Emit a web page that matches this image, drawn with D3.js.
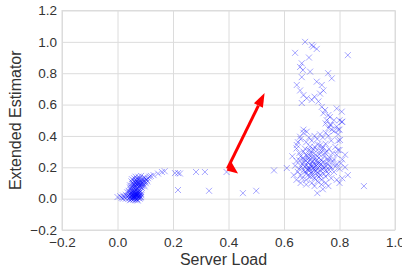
<!DOCTYPE html>
<html>
<head>
<meta charset="utf-8">
<script src="https://cdn.jsdelivr.net/npm/d3@7"></script>
<style>
  body { margin: 0; background: #fff; }
  svg { display: block; font-family: "Liberation Sans", Arial, sans-serif; }
</style>
</head>
<body>
<div id="container"></div>
<script>
// ---- data ----
var xTicks = [-0.2, 0.0, 0.2, 0.4, 0.6, 0.8, 1.0];
var yTicks = [-0.2, 0.0, 0.2, 0.4, 0.6, 0.8, 1.0, 1.2];

// low-load cluster near the origin
var lowCluster = [
  [0.04,0.00],[0.045,0.01],[0.05,-0.005],[0.055,0.005],[0.06,0.0],[0.065,0.01],[0.07,-0.005],[0.075,0.005],
  [0.08,0.0],[0.05,0.02],[0.055,0.03],[0.06,0.02],[0.065,0.035],[0.07,0.025],[0.075,0.03],[0.08,0.02],
  [0.045,0.03],[0.04,0.02],[0.085,0.01],[0.06,0.045],[0.07,0.045],[0.05,0.04],[0.08,0.04],[0.055,0.015],
  [0.065,-0.01],[0.075,0.015],[0.045,-0.01],[0.085,0.03],[0.058,0.008],[0.068,0.018],[0.062,0.028],
  [0.072,0.038],[0.052,0.048],[0.078,0.052],[0.048,0.058],[0.066,0.055],[0.057,-0.008],[0.073,-0.012],
  [0.053,0.002],[0.063,0.004],[0.067,0.022],[0.058,0.036],[0.071,0.008],[0.077,0.024],[0.049,0.014],
  [0.061,0.012],[0.069,0.032],[0.056,0.024],[0.074,0.046],[0.064,0.042],[0.059,0.052],[0.082,0.006],
  [0.047,0.005],[0.083,0.044],[0.051,0.032],[0.069,-0.002],[0.079,0.012],[0.063,0.018],[0.054,0.042],
  [0.066,0.028],[0.072,0.018],[0.06,0.008],[0.076,0.036],[0.086,0.022],[0.042,0.04],
  [0.05,0.07],[0.055,0.08],[0.06,0.065],[0.065,0.075],[0.07,0.09],[0.075,0.07],[0.08,0.085],[0.085,0.095],
  [0.09,0.08],[0.06,0.09],[0.065,0.1],[0.07,0.11],[0.075,0.1],[0.08,0.115],[0.085,0.11],[0.09,0.1],
  [0.095,0.115],[0.1,0.11],[0.055,0.1],[0.06,0.115],[0.07,0.125],[0.08,0.13],[0.09,0.125],[0.1,0.13],
  [0.105,0.12],[0.11,0.13],[0.115,0.14],[0.12,0.145],[0.095,0.09],[0.045,0.085],[0.05,0.11],[0.06,0.13],
  [0.065,0.14],[0.075,0.14],[0.085,0.145],[0.052,0.124],[0.068,0.062],[0.088,0.068],[0.098,0.078],[0.078,0.078],
  [0.072,0.082],[0.067,0.092],[0.077,0.094],[0.082,0.1],[0.062,0.078],[0.073,0.102],[0.087,0.086],
  [0.068,0.118],[0.078,0.122],[0.058,0.072],[0.083,0.076],[0.092,0.108],[0.064,0.106],[0.074,0.064],
  [0.102,0.098],[0.108,0.11],[0.096,0.135],[0.057,0.09],
  [0.0,0.01],[0.01,0.015],[0.015,0.005],[0.02,0.02],[0.025,0.01],[0.03,0.025],[0.035,0.015],[0.03,0.0],
  [0.02,0.0],[0.04,0.05],[0.035,0.04],[0.045,0.07]
];

// sparse points between the two clusters
var midPoints = [
  [0.13,0.15],[0.146,0.16],[0.16,0.17],[0.17,0.175],[0.207,0.163],[0.218,0.163],[0.225,0.16],[0.218,0.055],
  [0.283,0.17],[0.315,0.17],[0.33,0.05],[0.393,0.17],[0.452,0.035],[0.50,0.05],[0.564,0.18],[0.61,0.195],
  [0.888,0.08]
];

// high-load cluster
var highCluster = [
  [0.66,0.15],[0.67,0.18],[0.68,0.16],[0.69,0.2],[0.70,0.17],[0.71,0.22],[0.72,0.19],[0.73,0.15],[0.74,0.21],
  [0.75,0.18],[0.76,0.24],[0.77,0.2],[0.665,0.22],[0.675,0.25],[0.685,0.23],[0.695,0.27],[0.705,0.24],
  [0.715,0.28],[0.725,0.26],[0.735,0.3],[0.745,0.27],[0.755,0.3],[0.765,0.26],[0.66,0.27],[0.67,0.3],
  [0.68,0.28],[0.69,0.31],[0.70,0.3],[0.71,0.33],[0.72,0.31],[0.73,0.34],[0.74,0.33],[0.75,0.35],
  [0.665,0.13],[0.68,0.12],[0.695,0.14],[0.71,0.13],[0.72,0.15],[0.735,0.12],[0.75,0.14],[0.76,0.16],
  [0.77,0.13],[0.655,0.19],[0.645,0.24],[0.65,0.17],[0.64,0.21],[0.655,0.29],[0.645,0.32],[0.65,0.36],
  [0.675,0.205],[0.685,0.185],[0.695,0.215],[0.705,0.195],[0.715,0.175],[0.725,0.225],[0.735,0.245],
  [0.745,0.195],[0.755,0.225],[0.765,0.205],[0.672,0.235],[0.688,0.255],[0.702,0.265],[0.718,0.245],
  [0.728,0.205],[0.742,0.235],[0.758,0.255],[0.70,0.21],[0.69,0.24],[0.71,0.20],[0.72,0.23],[0.68,0.21],
  [0.73,0.18],[0.70,0.16],[0.69,0.18],
  [0.678,0.172],[0.692,0.192],[0.708,0.182],[0.722,0.168],[0.738,0.188],[0.752,0.208],[0.662,0.205],
  [0.682,0.272],[0.698,0.288],[0.712,0.262],[0.728,0.282],[0.748,0.292],[0.668,0.255],[0.702,0.235],
  [0.716,0.212],[0.732,0.222],[0.686,0.148],[0.704,0.142],[0.726,0.138],[0.744,0.158],[0.762,0.182],
  [0.676,0.318],[0.694,0.332],[0.722,0.345],[0.706,0.315],[0.738,0.318],[0.762,0.318],[0.656,0.245],
  [0.78,0.17],[0.79,0.22],[0.80,0.19],[0.81,0.25],[0.79,0.28],[0.80,0.31],[0.82,0.2],[0.83,0.15],[0.81,0.13],
  [0.78,0.25],[0.785,0.33],[0.795,0.37],[0.775,0.29],[0.82,0.28],[0.8,0.1],[0.79,0.12],[0.785,0.205],
  [0.805,0.225],[0.775,0.235],
  [0.70,0.1],[0.71,0.08],[0.72,0.11],[0.735,0.09],[0.75,0.1],[0.68,0.09],[0.66,0.1],[0.72,0.035],[0.76,0.08],
  [0.74,0.06],
  [0.66,0.38],[0.67,0.42],[0.68,0.36],[0.69,0.39],[0.7,0.37],[0.71,0.4],[0.72,0.38],[0.73,0.41],[0.74,0.39],
  [0.75,0.42],[0.76,0.4],[0.77,0.37],[0.78,0.43],[0.76,0.45],[0.77,0.47],[0.78,0.5],[0.79,0.46],[0.8,0.44],
  [0.8,0.5],[0.81,0.49],[0.795,0.41],[0.75,0.48],[0.765,0.52],
  [0.658,0.395],[0.646,0.342],[0.67,0.44],[0.682,0.427],[0.63,0.27],[0.635,0.15],[0.645,0.12]
];

// the tall column above the high-load cluster
var column = [
  [0.676,1.0],[0.70,0.98],[0.705,0.97],[0.718,0.955],[0.64,0.93],[0.69,0.90],[0.83,0.915],[0.664,0.863],
  [0.658,0.84],[0.668,0.82],[0.694,0.81],[0.759,0.80],[0.772,0.767],[0.664,0.775],[0.718,0.746],[0.646,0.725],
  [0.658,0.69],[0.736,0.725],[0.742,0.69],[0.73,0.67],[0.67,0.66],[0.682,0.64],[0.70,0.63],[0.71,0.65],
  [0.724,0.62],[0.664,0.61],[0.736,0.585],[0.748,0.565],[0.76,0.533],[0.79,0.575],[0.808,0.555],[0.742,0.545],
  [0.754,0.50],[0.766,0.47],[0.772,0.44],[0.795,0.44],[0.802,0.374],[0.795,0.31],[0.808,0.49]
];

// red arrow: tail and head in data units
var arrowFrom = [0.393, 0.18];
var arrowTo = [0.53, 0.674];

// ---- layout ----
var W = 402, H = 276;
var margin = { top: 10.5, right: 7, bottom: 46, left: 62 };
var width = W - margin.left - margin.right,
    height = H - margin.top - margin.bottom;

var svg = d3.select("#container").append("svg")
    .attr("width", W)
    .attr("height", H);

var g = svg.append("g")
    .attr("transform", "translate(" + margin.left + "," + margin.top + ")");

var x = d3.scaleLinear().domain([-0.2, 1.0]).range([0, width]);
var y = d3.scaleLinear().domain([-0.2, 1.2]).range([height, 0]);

var gridColor = "#dcdcdc";
var textColor = "#333";

// axes with grid lines
var xAxis = g.append("g")
    .attr("transform", "translate(0," + height + ")")
    .call(d3.axisBottom(x).tickValues(xTicks).tickFormat(d3.format(".1f"))
        .tickSize(-height).tickPadding(7));

var yAxis = g.append("g")
    .call(d3.axisLeft(y).tickValues(yTicks).tickFormat(d3.format(".1f"))
        .tickSize(-width).tickPadding(5));

[xAxis, yAxis].forEach(function (a)
{
    a.select(".domain").remove();
    a.selectAll(".tick line").attr("stroke", gridColor).attr("stroke-width", 1);
    a.selectAll(".tick text")
        .attr("fill", textColor)
        .style("font-size", "13.5px")
        .style("font-family", "Liberation Sans, Arial, sans-serif");
});

// frame
g.append("rect")
    .attr("x", 0).attr("y", 0)
    .attr("width", width).attr("height", height)
    .attr("fill", "none")
    .attr("stroke", gridColor)
    .attr("stroke-width", 1);

// points, drawn as "x" markers
var allPoints = lowCluster.concat(midPoints, highCluster, column);
var r = 3;

g.append("g")
    .selectAll("path")
    .data(allPoints)
    .enter()
    .append("path")
    .attr("d", function (d)
    {
        var cx = x(d[0]), cy = y(d[1]);
        return "M" + (cx - r) + "," + (cy - r) + "L" + (cx + r) + "," + (cy + r) +
               "M" + (cx - r) + "," + (cy + r) + "L" + (cx + r) + "," + (cy - r);
    })
    .attr("stroke", "blue")
    .attr("stroke-opacity", 0.35)
    .attr("stroke-width", 1)
    .attr("fill", "none");

// red arrow
var x0 = x(arrowFrom[0]), y0 = y(arrowFrom[1]),
    x1 = x(arrowTo[0]), y1 = y(arrowTo[1]);
var len = Math.sqrt((x1 - x0) * (x1 - x0) + (y1 - y0) * (y1 - y0));
var ux = (x1 - x0) / len, uy = (y1 - y0) / len;
var nx = -uy, ny = ux;
var headLen = 14, headHalf = 5;
var bx = x1 - headLen * ux, by = y1 - headLen * uy;

var arrow = g.append("g");
arrow.append("line")
    .attr("x1", x0 + 2 * ux).attr("y1", y0 + 2 * uy)
    .attr("x2", bx).attr("y2", by)
    .attr("stroke", "red")
    .attr("stroke-width", 3);
arrow.append("polygon")
    .attr("points", [[x1, y1], [bx + headHalf * nx, by + headHalf * ny], [bx - headHalf * nx, by - headHalf * ny]].join(" "))
    .attr("fill", "red");
// the small flared tail
arrow.append("polygon")
    .attr("points", [[x0, y0], [x0 + 11.5, y0 + 3], [x0 + 9 * ux + 1, y0 + 9 * uy]].join(" "))
    .attr("fill", "red");

// axis labels
svg.append("text")
    .attr("x", margin.left + width / 2 - 5)
    .attr("y", 265)
    .attr("text-anchor", "middle")
    .attr("fill", textColor)
    .style("font-size", "16px")
    .text("Server Load");

svg.append("text")
    .attr("transform", "translate(21," + (margin.top + height / 2) + ") rotate(-90)")
    .attr("text-anchor", "middle")
    .attr("fill", textColor)
    .style("font-size", "16px")
    .text("Extended Estimator");
</script>
</body>
</html>
